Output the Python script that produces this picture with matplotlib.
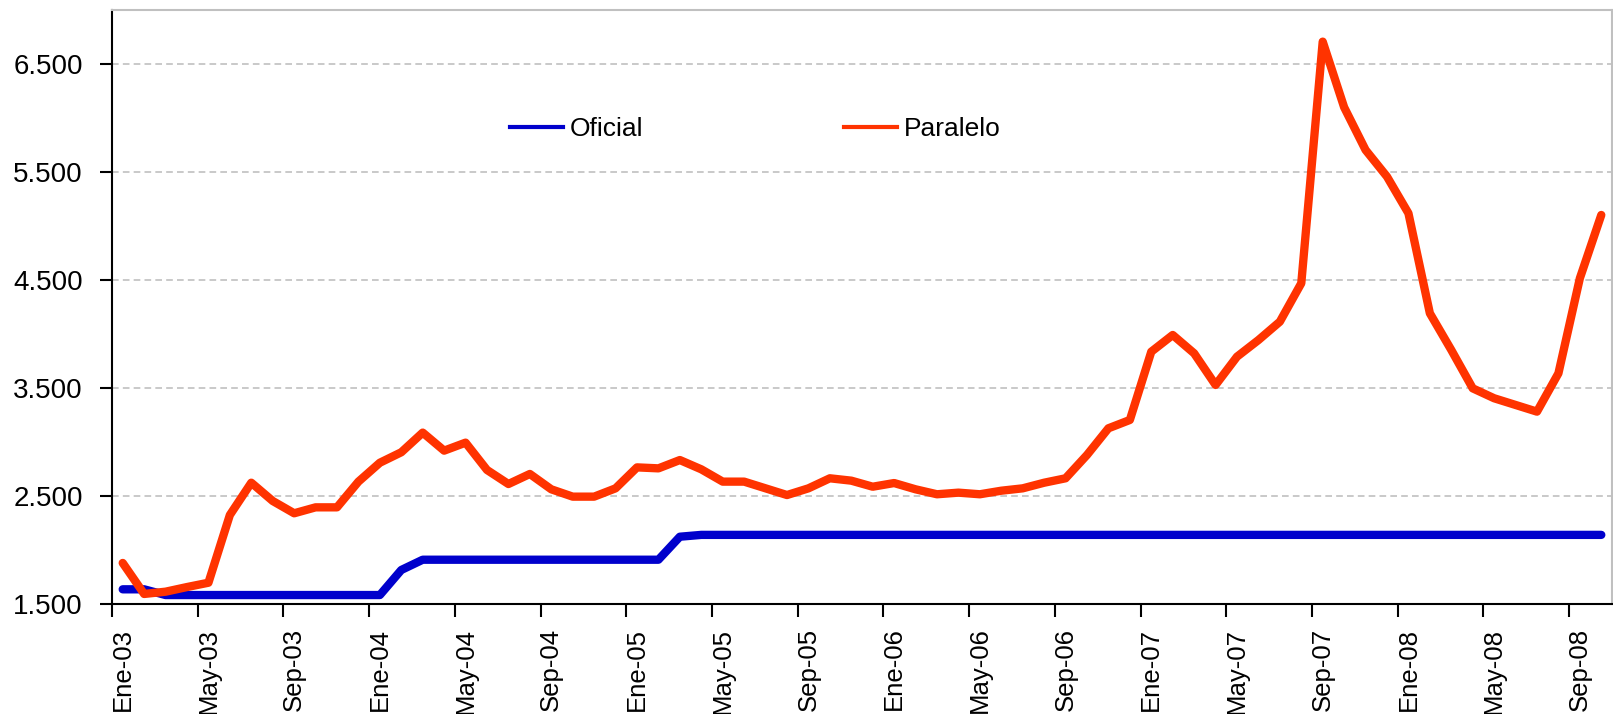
import matplotlib
matplotlib.use('Agg')
import matplotlib.pyplot as plt
from matplotlib.lines import Line2D

#region Data
meses = ['Ene', 'Feb', 'Mar', 'Abr', 'May', 'Jun', 'Jul', 'Ago', 'Sep', 'Oct', 'Nov', 'Dic']
anios = ['03', '04', '05', '06', '07', '08']
fechas = [m + '-' + a for a in anios for m in meses][:70]  # Ene-03 .. Oct-08

oficial = [1636, 1636, 1583, 1583, 1583, 1583, 1583, 1583, 1583, 1583, 1583, 1583,  # 2003
           1583, 1815, 1910, 1910, 1910, 1910, 1910, 1910, 1910, 1910, 1910, 1910,  # 2004
           1910, 1910, 2123, 2140, 2140, 2140, 2140, 2140, 2140, 2140, 2140, 2140,  # 2005
           2140, 2140, 2140, 2140, 2140, 2140, 2140, 2140, 2140, 2140, 2140, 2140,  # 2006
           2140, 2140, 2140, 2140, 2140, 2140, 2140, 2140, 2140, 2140, 2140, 2140,  # 2007
           2140, 2140, 2140, 2140, 2140, 2140, 2140, 2140, 2140, 2140]              # 2008

paralelo = [1880, 1593, 1614, 1657, 1697, 2324, 2623, 2454, 2340, 2395, 2395, 2633,  # 2003
            2808, 2905, 3087, 2920, 2994, 2741, 2611, 2704, 2562, 2494, 2494, 2571,  # 2004
            2765, 2756, 2833, 2747, 2633, 2633, 2571, 2509, 2571, 2664, 2642, 2586,  # 2005
            2620, 2562, 2516, 2531, 2516, 2549, 2571, 2623, 2664, 2880, 3127, 3204,  # 2006
            3836, 3991, 3821, 3528, 3790, 3944, 4114, 4470, 6707, 6099, 5704, 5457,  # 2007
            5118, 4192, 3852, 3497, 3405, 3343, 3281, 3636, 4516, 5102]              # 2008

yticks = [1500, 2500, 3500, 4500, 5500, 6500]
#endregion

plt.rcParams['font.family'] = ['Liberation Sans', 'DejaVu Sans']
fs = 19

fig = plt.figure(figsize=(16.13, 7.14), dpi=100)
ax = fig.add_axes([112 / 1613, 1 - 604 / 714, 1500 / 1613, 594 / 714])

x = list(range(len(fechas)))
ax.plot(x, oficial, color='#0000CC', lw=6, solid_capstyle='round', solid_joinstyle='round', zorder=3)
ax.plot(x, paralelo, color='#FF3300', lw=6, solid_capstyle='round', solid_joinstyle='round', zorder=4)

ax.set_xlim(-0.5, len(fechas) - 0.5)
ax.set_ylim(1500, 7000)

#region Axes formatting
ax.set_yticks(yticks)
ax.set_yticklabels(['{:,}'.format(v).replace(',', '.') for v in yticks])
ax.tick_params(axis='y', length=9, width=1.5, pad=12, labelsize=20, direction='out')
ax.yaxis.grid(True, color='#c0c0c0', linestyle=(0, (4, 2.5)), lw=1.2)
ax.set_axisbelow(True)

# tick marks at category boundaries, labels at category centers
ax.set_xticks([i - 0.5 for i in range(0, len(fechas), 4)])
ax.set_xticklabels([])
ax.tick_params(axis='x', which='major', length=9, width=1.5, direction='out')
ax.set_xticks(range(0, len(fechas), 4), minor=True)
ax.set_xticklabels([fechas[i] for i in range(0, len(fechas), 4)], minor=True, rotation=90, va='top', ha='center')
ax.tick_params(axis='x', which='minor', length=0, pad=17, labelsize=18.5)

for s in ['left', 'bottom']:
    ax.spines[s].set_color('black')
    ax.spines[s].set_linewidth(1.5)
for s in ['top', 'right']:
    ax.spines[s].set_color('#c0c0c0')
    ax.spines[s].set_linewidth(1.5)
#endregion

handles = [Line2D([], [], color='#0000CC', lw=3), Line2D([], [], color='#FF3300', lw=3)]
fig.legend(handles, ['Oficial', 'Paralelo'], loc='center left', bbox_to_anchor=(510 / 1613, 1 - 129 / 714),
           ncol=2, frameon=False, fontsize=fs, handlelength=2.0, handletextpad=0.27, columnspacing=7.6,
           borderpad=0, borderaxespad=0)

fig.savefig('out.png', dpi=100)
